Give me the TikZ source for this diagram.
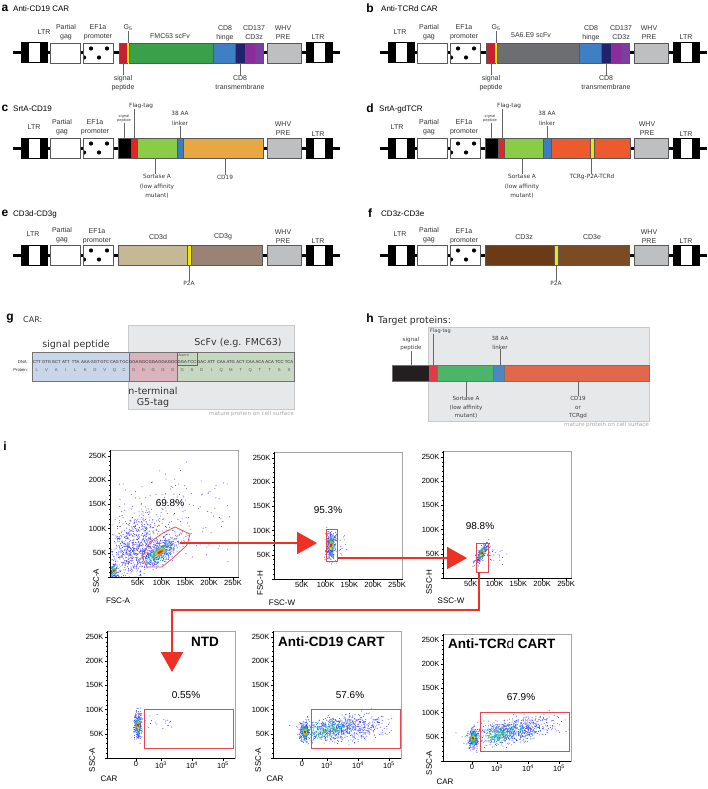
\documentclass[tikz,border=0pt]{standalone}
\usepackage{fontspec}
\setmainfont{Liberation Sans}
\newfontfamily\verd{DejaVu Sans}
\usetikzlibrary{arrows.meta}

\definecolor{spred}{HTML}{C8202F}
\definecolor{g5yel}{HTML}{F2E500}
\definecolor{fmcgreen}{HTML}{3AA14A}
\definecolor{hingeblue}{HTML}{3F7FC3}
\definecolor{tmnavy}{HTML}{22236A}
\definecolor{cdpurple}{HTML}{8B2C9A}
\definecolor{zpurple}{HTML}{7B3F9E}
\definecolor{whvgrey}{HTML}{BEBFC1}
\definecolor{scfvgrey}{HTML}{6D6E71}
\definecolor{flagred}{HTML}{E52521}
\definecolor{srtgreen}{HTML}{8CCB45}
\definecolor{lnkblue}{HTML}{3B7EC2}
\definecolor{cdorange}{HTML}{E8A841}
\definecolor{tcrorange}{HTML}{EC5B2E}
\definecolor{cdtan}{HTML}{C4B896}
\definecolor{cdmauve}{HTML}{9A8274}
\definecolor{zbrown}{HTML}{6B3B17}
\definecolor{ebrown}{HTML}{7B4B23}
\definecolor{gblue}{HTML}{C9D5E9}
\definecolor{gpink}{HTML}{D9B4BC}
\definecolor{ggreen}{HTML}{C6D7C2}
\definecolor{matgrey}{HTML}{E7E8EA}
\definecolor{matedge}{HTML}{C8C9CB}
\definecolor{hblack}{HTML}{231F20}
\definecolor{hred}{HTML}{E23B47}
\definecolor{hgreen}{HTML}{4DB46C}
\definecolor{hblue}{HTML}{4B87C2}
\definecolor{horange}{HTML}{E0694B}
\definecolor{arrowred}{HTML}{EE3124}
\definecolor{gatered}{HTML}{E8474F}
\definecolor{framegrey}{HTML}{A6A6A6}
\definecolor{dotblue}{HTML}{3C3CF0}
\definecolor{dotcyan}{HTML}{00B4E6}
\definecolor{dotgreen}{HTML}{3CC83C}
\definecolor{dotyellow}{HTML}{E6E61E}
\definecolor{dotorange}{HTML}{F08C1E}
\definecolor{dotred}{HTML}{E61E1E}

\tikzset{
  plab/.style={font=\bfseries\fontsize{12}{12}\selectfont, inner sep=0},
  ptitle/.style={font=\fontsize{8}{9}\selectfont, inner sep=0, anchor=west},
  cl/.style={font=\fontsize{7}{9}\selectfont, text=black!80, inner sep=0, align=center},
  vl/.style={font=\verd\fontsize{5.8}{9.5}\selectfont, text=black!80, inner sep=0, align=center},
  tl/.style={font=\verd\fontsize{3.6}{4.6}\selectfont, text=black!80, inner sep=0, align=center},
  hl/.style={font=\verd\fontsize{5.6}{8.3}\selectfont, text=black!75, inner sep=0, align=center},
  gl/.style={font=\verd\fontsize{9.5}{11.5}\selectfont, text=black!80, inner sep=0, align=center},
  capt/.style={font=\verd\fontsize{5.6}{6}\selectfont, text=black!35, inner sep=0},
  dna/.style={font=\fontsize{4.2}{5}\selectfont, text=black!85, inner sep=0},
  segline/.style={draw=black!65, line width=0.7pt},
  leader/.style={draw=black!60, line width=0.5pt},
  matbox/.style={draw=matedge, fill=matgrey, line width=0.8pt},
  axisblack/.style={draw=black, line width=0.45pt},
  tick/.style={font=\fontsize{7.5}{8}\selectfont, inner sep=1pt},
  axt/.style={font=\fontsize{8}{9}\selectfont, inner sep=0},
  pct/.style={font=\fontsize{10}{11}\selectfont, inner sep=0},
  ftitle/.style={font=\bfseries\fontsize{13.5}{14}\selectfont, inner sep=0},
  gate/.style={draw=gatered, line width=0.7pt},
  flowarrow/.style={draw=arrowred, line width=2pt, -{Triangle[length=20pt,width=22pt]}}
}

% vector backbone: LTR, gag, EF1a, WHV PRE, LTR
\newcommand\vecbase[2]{%
\begin{scope}[shift={(#1,#2)}]
  \draw[line width=3pt] (13,0) -- (340,0);
  \foreach \l in {21,306}{
    \fill[black] (\l,-10.5) rectangle ++(27,21);
    \fill[white] (\l+8,-9.5) rectangle ++(11,19);
  }
  \draw[segline, fill=white] (50,-10) rectangle (80,10);
  \fill[white] (83,-10) rectangle (113,10);
  \begin{scope}
    \clip (83,-10) rectangle (113,10);
    \foreach \p in {(91,-4.5),(107,-4.5),(99,4.5),(84,4.5)} \fill \p circle (2.1);
  \end{scope}
  \draw[segline] (83,-10) rectangle (113,10);
  \draw[segline, fill=whvgrey] (267,-10) rectangle (301,10);
\end{scope}}
\newcommand\seg[3]{\draw[segline, fill=#3] (#1,-10) rectangle (#2,10);}

% flow cytometry helpers
\newcommand\cloud[7]{%
  \foreach \k in {1,...,#6}{%
    \pgfmathsetmacro\ga{(rand+rand+rand)*(#3)}%
    \pgfmathsetmacro\gb{(rand+rand+rand)*(#4)}%
    \fill[#7] ({#1+\ga*cos(#5)-\gb*sin(#5)},{#2+\ga*sin(#5)+\gb*cos(#5)}) circle (0.5);
  }}
\newcommand\popul[6]{%
  \cloud{#1}{#2}{#3}{#4}{#5}{#6}{dotblue}
  \pgfmathtruncatemacro\nn{#6/3}
  \cloud{#1}{#2}{0.6*#3}{0.6*#4}{#5}{\nn}{dotcyan}
  \pgfmathtruncatemacro\nn{#6/4}
  \cloud{#1}{#2}{0.42*#3}{0.42*#4}{#5}{\nn}{dotgreen}
  \pgfmathtruncatemacro\nn{#6/6}
  \cloud{#1}{#2}{0.28*#3}{0.28*#4}{#5}{\nn}{dotyellow}
  \pgfmathtruncatemacro\nn{#6/8}
  \cloud{#1}{#2}{0.17*#3}{0.17*#4}{#5}{\nn}{dotorange}
  \pgfmathtruncatemacro\nn{#6/12}
  \cloud{#1}{#2}{0.09*#3}{0.09*#4}{#5}{\nn}{dotred}}
\newcommand\plotframe{%
  \draw[framegrey, line width=0.6pt] (0,0) rectangle (128,127);
  \draw[axisblack] (0,0) -- (0,127) -- (128,127);
  \foreach \m in {1,...,26} \draw[axisblack] (0,{127-4.84*\m}) -- ++(-1.2,0);
  \draw[axisblack] (0,127) -- ++(-2.5,0);
  \foreach \v/\t in {1/50K,2/100K,3/150K,4/200K,5/250K}
    \draw[axisblack] (0,{127-24.2*\v}) -- ++(-2.5,0) node[tick, anchor=east] (yt\v) {\t};}
\newcommand\linx{%
  \foreach \m in {0,...,26} \draw[axisblack] ({4+4.76*\m},127) -- ++(0,1.2);
  \foreach \v/\t in {1/50K,2/100K,3/150K,4/200K,5/250K}
    \draw[axisblack] ({4+23.8*\v},127) -- ++(0,2.5) node[tick, anchor=north] (xt\v) {\t};}
\newcommand\logx{%
  \foreach \p in {9,13,17,21,24,26,27.5,28.3,29,29.7,30.5,32,35,39,43,47,50}
    \draw[axisblack] (\p,127) -- ++(0,1.2);
  \foreach \d in {54,85} \foreach \m in {2,...,9}
    \draw[axisblack] ({\d+31*log10(\m)},127) -- ++(0,1.2);
  \draw[axisblack] (29,127) -- ++(0,2.5) node[tick, anchor=north] (x0) {0};
  \foreach \p/\e in {54/3,85/4,116/5}
    \draw[axisblack] (\p,127) -- ++(0,2.5) node[tick, anchor=north] (xe\e) {10\textsuperscript{\e}};}

\begin{document}
\begin{tikzpicture}[x=1pt,y=-1pt]
\useasboundingbox (0,0) rectangle (708,789);
\pgfmathsetseed{7}

% a: Anti-CD19 CAR
\node[plab] (la) at (5,8) {a};
\node[ptitle] (ta) at (13,9) {Anti-CD19 CAR};
\vecbase{0}{53}
\begin{scope}[shift={(0,53)}]
  \seg{119}{127}{spred}\seg{129}{213}{fmcgreen}\seg{213}{235}{hingeblue}
  \seg{235}{245}{tmnavy}\seg{245}{255}{cdpurple}\seg{255}{263}{zpurple}
  \fill[g5yel] (127,-9.6) rectangle (129,9.6);
\end{scope}
\node[cl] (a1) at (44,32) {LTR};
\node[cl] (a2) at (66,32.5) {Partial\\gag};
\node[cl] (a3) at (98,32.5) {EF1a\\promoter};
\node[cl] (a4) at (128,28) {G\textsubscript{5}};
\node[cl] (a5) at (170,36) {FMC63 scFv};
\node[cl] (a6) at (225,33) {CD8\\hinge};
\node[cl] (a7) at (254,33) {CD137\\CD3z};
\node[cl] (a8) at (283,33) {WHV\\PRE};
\node[cl] (a9) at (318,37) {LTR};
\node[cl] (a10) at (123,83) {signal\\peptide};
\node[cl] (a11) at (240,83) {CD8\\transmembrane};
\draw[leader] (a4.south) -- (a4.south |- 0,43);
\draw[leader] (a10.north) -- (a10.north |- 0,63);
\draw[leader] (a11.north) -- (a11.north |- 0,63);

% b: Anti-TCRd CAR
\node[plab] (lb) at (370,8) {b};
\node[ptitle] (tb) at (381,9) {Anti-TCRd CAR};
\vecbase{367}{53}
\begin{scope}[shift={(367,53)}]
  \seg{119}{128}{spred}\seg{130}{212}{scfvgrey}\seg{212}{234}{hingeblue}
  \seg{234}{244}{tmnavy}\seg{244}{254}{cdpurple}\seg{254}{262}{zpurple}
  \fill[g5yel] (128,-9.6) rectangle (130,9.6);
\end{scope}
\node[cl] (b1) at (400,32) {LTR};
\node[cl] (b2) at (429,32.5) {Partial\\gag};
\node[cl] (b3) at (464,32.5) {EF1a\\promoter};
\node[cl] (b4) at (496,28) {G\textsubscript{5}};
\node[cl] (b5) at (531,35) {5A6.E9 scFv};
\node[cl] (b6) at (591,33) {CD8\\hinge};
\node[cl] (b7) at (621,33) {CD137\\CD3z};
\node[cl] (b8) at (649,33) {WHV\\PRE};
\node[cl] (b9) at (686,37) {LTR};
\node[cl] (b10) at (491,83) {signal\\peptide};
\node[cl] (b11) at (606,83) {CD8\\transmembrane};
\draw[leader] (b4.south) -- (b4.south |- 0,43);
\draw[leader] (b10.north) -- (b10.north |- 0,63);
\draw[leader] (b11.north) -- (b11.north |- 0,63);

% c: SrtA-CD19
\node[plab] (lc) at (5,108) {c};
\node[ptitle] (tc) at (13,109) {SrtA-CD19};
\vecbase{0}{148}
\begin{scope}[shift={(0,148)}]
  \seg{118}{131}{black}\seg{131}{137}{flagred}\seg{137}{177}{srtgreen}
  \seg{177}{183}{lnkblue}\seg{183}{263}{cdorange}
\end{scope}
\node[cl] (c1) at (34,127) {LTR};
\node[cl] (c2) at (62,127.5) {Partial\\gag};
\node[cl] (c3) at (95,127.5) {EF1a\\promoter};
\node[tl] (c4) at (124,118.5) {signal\\peptide};
\node[vl, anchor=west] (c5) at (129,106) {Flag-tag};
\node[vl] (c6) at (180,118.5) {38 AA\\linker};
\node[cl] (c7) at (283,128.5) {WHV\\PRE};
\node[cl] (c8) at (318,134) {LTR};
\node[vl] (c9) at (157,186.5) {Sortase A\\(low affinity\\mutant)};
\node[vl] (c10) at (225,177) {CD19};
\draw[leader] (c4.south) -- (c4.south |- 0,138);
\draw[leader] ([xshift=5pt]c5.south west) -- ([xshift=5pt]c5.south west |- 0,138);
\draw[leader] (c6.south) -- (c6.south |- 0,138);
\draw[leader] ([xshift=-2pt]c9.north) -- ([xshift=-2pt]c9.north |- 0,158);
\draw[leader] (c10.north) -- (c10.north |- 0,158);

% d: SrtA-gdTCR
\node[plab] (ld) at (370,108) {d};
\node[ptitle] (td) at (379,109) {SrtA-gdTCR};
\vecbase{367}{148}
\begin{scope}[shift={(367,148)}]
  \seg{118}{131}{black}\seg{131}{137}{flagred}\seg{137}{176}{srtgreen}
  \seg{176}{184}{lnkblue}\seg{184}{263}{tcrorange}\seg{223}{227}{g5yel}
\end{scope}
\node[cl] (d1) at (397,127) {LTR};
\node[cl] (d2) at (429,127.5) {Partial\\gag};
\node[cl] (d3) at (464,127.5) {EF1a\\promoter};
\node[tl] (d4) at (490,118.5) {signal\\peptide};
\node[vl, anchor=west] (d5) at (497,106) {Flag-tag};
\node[vl] (d6) at (547,118.5) {38 AA\\linker};
\node[cl] (d7) at (647,128.5) {WHV\\PRE};
\node[cl] (d8) at (686,134) {LTR};
\node[vl] (d9) at (522,186.5) {Sortase A\\(low affinity\\mutant)};
\node[vl] (d10) at (592,177) {TCRg-P2A-TCRd};
\draw[leader] ([xshift=1pt]d4.south) -- ([xshift=1pt]d4.south |- 0,138);
\draw[leader] ([xshift=5pt]d5.south west) -- ([xshift=5pt]d5.south west |- 0,138);
\draw[leader] (d6.south) -- (d6.south |- 0,138);
\draw[leader] (d9.north) -- (d9.north |- 0,158);
\draw[leader] ([xshift=-1pt]d10.north) -- ([xshift=-1pt]d10.north |- 0,158);

% e: CD3d-CD3g
\node[plab] (le) at (5,213) {e};
\node[ptitle] (te) at (13,214) {CD3d-CD3g};
\vecbase{0}{255}
\begin{scope}[shift={(0,255)}]
  \seg{118}{187}{cdtan}\seg{191}{262}{cdmauve}\seg{187}{191}{g5yel}
\end{scope}
\node[cl] (e1) at (33,234) {LTR};
\node[cl] (e2) at (62,235) {Partial\\gag};
\node[cl] (e3) at (97,236) {EF1a\\promoter};
\node[cl] (e4) at (158,237) {CD3d};
\node[cl] (e5) at (223,237) {CD3g};
\node[cl] (e6) at (283,237) {WHV\\PRE};
\node[cl] (e7) at (318,241) {LTR};
\node[vl] (e8) at (189,283) {P2A};
\draw[leader] (e8.north) -- (e8.north |- 0,265);

% f: CD3z-CD3e
\node[plab] (lf) at (370,213) {f};
\node[ptitle] (tf) at (381,214) {CD3z-CD3e};
\vecbase{367}{255}
\begin{scope}[shift={(367,255)}]
  \seg{118}{187}{zbrown}\seg{191}{262}{ebrown}\seg{187}{191}{g5yel}
\end{scope}
\node[cl] (f1) at (400,234) {LTR};
\node[cl] (f2) at (429,235) {Partial\\gag};
\node[cl] (f3) at (464,236) {EF1a\\promoter};
\node[cl] (f4) at (524,237) {CD3z};
\node[cl] (f5) at (592,237) {CD3e};
\node[cl] (f6) at (649,237) {WHV\\PRE};
\node[cl] (f7) at (686,241) {LTR};
\node[vl] (f8) at (556,283) {P2A};
\draw[leader] (f8.north) -- (f8.north |- 0,265);

% g: CAR sequence
\node[plab] (lg) at (10,319) {g};
\node[font=\verd\fontsize{8}{9}\selectfont, inner sep=0, anchor=west, text=black!80] (tg) at (23,320) {CAR:};
\draw[matbox] (128,325) rectangle (294,409);
\node[capt, anchor=north east] (gcap) at (294,411) {mature protein on cell surface};
\draw[black!55, line width=0.5pt, fill=gblue] (32,352) rectangle (129,381);
\draw[black!55, line width=0.5pt, fill=gpink] (129,352) rectangle (177.5,381);
\draw[black!55, line width=0.5pt, fill=ggreen] (177.5,352) rectangle (294,381);
\draw[black!60, line width=0.3pt] (177.5,352) rectangle (197,365);
\node[font=\itshape\fontsize{3.3}{4}\selectfont, inner sep=0, anchor=west, text=black!70] (bam) at (178.5,355) {BamHI};
\node[dna, anchor=east] (dnal) at (28,362) {DNA:};
\node[dna, anchor=east] (protl) at (28,370) {Protein:};
\foreach \c [count=\i] in {CTT,GTG,GCT,ATT,TTA,AAA,GGT,GTC,CAG,TGC,GGA,GGC,GGA,GGA,GGC,GGA,TCC,GAC,ATT,CAA,ATG,ACT,CAA,ACA,ACA,TCC,TCA}
  \node[dna] (cod\i) at ({32+9.7*(\i-0.5)},362) {\c};
\foreach \p [count=\i] in {L,V,A,I,L,K,G,V,Q,C,G,G,G,G,G,G,S,D,I,Q,M,T,Q,T,T,S,S}
  \node[dna, text=black!65] (aa\i) at ({32+9.7*(\i-0.5)},370) {\p};
\node[gl] (gsp) at (76,345) {signal peptide};
\node[gl] (gscfv) at (238,343) {ScFv (e.g. FMC63)};
\node[gl] (gg5) at (153,397.5) {n-terminal\\G5-tag};

% h: target proteins
\node[plab] (lh) at (370,318) {h};
\node[font=\verd\fontsize{9.3}{10}\selectfont, inner sep=0, anchor=west, text=black!85] (th) at (378,321) {Target proteins:};
\draw[matbox] (428,327) rectangle (649,421);
\node[capt, anchor=north east] (hcap) at (649,422.5) {mature protein on cell surface};
\draw[black!55, line width=0.5pt, fill=hblack] (392,365) rectangle (429,381);
\draw[black!55, line width=0.5pt, fill=hred] (429,365) rectangle (437,381);
\draw[black!55, line width=0.5pt, fill=hgreen] (437,365) rectangle (493,381);
\draw[black!55, line width=0.5pt, fill=hblue] (493,365) rectangle (504,381);
\draw[black!55, line width=0.5pt, fill=horange] (504,365) rectangle (649,381);
\node[hl] (h1) at (411,344) {signal\\peptide};
\node[hl, anchor=west, font=\verd\fontsize{5}{6}\selectfont] (h2) at (430,331) {Flag-tag};
\node[hl] (h3) at (500,343) {38 AA\\linker};
\node[hl] (h4) at (466,407.5) {Sortase A\\(low affinity\\mutant)};
\node[hl] (h5) at (578,407.5) {CD19\\or\\TCRgd};
\draw[leader] (h1.south) -- (h1.south |- 0,365);
\draw[leader] ([xshift=3pt]h2.south west) -- ([xshift=3pt]h2.south west |- 0,365);
\draw[leader] (h3.south) -- (h3.south |- 0,365);
\draw[leader] (h4.north) -- (h4.north |- 0,381);
\draw[leader] (h5.north) -- (h5.north |- 0,381);

% i: flow gating
\node[plab] (li) at (5,446) {i};

\begin{scope}[shift={(110,450)}]
  \begin{scope}
    \clip (0,0) rectangle (128,127);
    \cloud{70}{60}{30}{22}{0}{150}{dotblue}
    \cloud{22}{95}{20}{12}{-65}{500}{dotblue}
    \cloud{28}{100}{14}{10}{-50}{300}{dotblue}
    \popul{4}{121}{5}{2.5}{-90}{110}
    \popul{50}{102}{12}{5}{-37}{420}
  \end{scope}
  \plotframe\linx
  \draw[gate] (32,107) -- (40,92) -- (53,83) -- (65,77) -- (80,84) -- (77,95)
    -- (63,108) -- (52,117) -- (37,117) -- cycle;
  \coordinate (g1) at (70,93);
  \node[pct] (pc1) at (60,53) {69.8\%};
  \node[axt, rotate=90] (yl1) at (-14,131) {SSC-A};
  \node[axt] (xl1) at (8,151) {FSC-A};
\end{scope}

\begin{scope}[shift={(274,452)}]
  \begin{scope}
    \clip (0,0) rectangle (128,127);
    \cloud{64}{92}{5}{7}{0}{25}{dotblue}
    \popul{57}{93}{2.4}{7.5}{0}{280}
  \end{scope}
  \plotframe\linx
  \draw[gate] (52,77) rectangle (63,109);
  \coordinate (p2in) at (43,91);
  \coordinate (g2) at (63,106);
  \node[pct] (pc2) at (54,58) {95.3\%};
  \node[axt, rotate=90] (yl2) at (-14,131) {FSC-H};
  \node[axt] (xl2) at (8,151) {FSC-W};
\end{scope}

\begin{scope}[shift={(443,451)}]
  \begin{scope}
    \clip (0,0) rectangle (128,127);
    \cloud{50}{104}{6}{5}{0}{30}{dotblue}
    \popul{39}{102}{6.5}{1.8}{-60}{200}
  \end{scope}
  \plotframe\linx
  \draw[gate] (33,92) rectangle (45,121);
  \coordinate (p3in) at (24,107);
  \coordinate (g3) at (36,121);
  \node[pct] (pc3) at (37,75) {98.8\%};
  \node[axt, rotate=90] (yl3) at (-14,131) {SSC-H};
  \node[axt] (xl3) at (8,150) {SSC-W};
\end{scope}

\begin{scope}[shift={(107,631)}]
  \begin{scope}
    \clip (0,0) rectangle (128,127);
    \cloud{52}{92}{9}{4}{0}{18}{dotblue}
    \popul{31}{94}{2}{6.5}{0}{260}
  \end{scope}
  \plotframe\logx
  \draw[gate] (37,78) rectangle (126,117);
  \coordinate (p4in) at (65,41);
  \node[ftitle] (tt4) at (98,11) {NTD};
  \node[pct] (pc4) at (79,64) {0.55\%};
  \node[axt, rotate=90] (yl4) at (-15,129) {SSC-A};
  \node[axt] (xl4) at (2,148) {CAR};
\end{scope}

\begin{scope}[shift={(273,631)}]
  \begin{scope}
    \clip (0,0) rectangle (128,127);
    \cloud{70}{97}{20}{6}{-6}{650}{dotblue}
    \cloud{58}{99}{12}{4.5}{-6}{200}{dotcyan}
    \cloud{52}{100}{7}{3}{-6}{70}{dotgreen}
    \popul{32}{101}{2.6}{5}{0}{220}
  \end{scope}
  \plotframe\logx
  \draw[gate] (38,78) rectangle (127,117);
  \node[ftitle, anchor=west] (tt5) at (5,11) {Anti-CD19 CART};
  \node[pct] (pc5) at (77,64) {57.6\%};
  \node[axt, rotate=90] (yl5) at (-15,129) {SSC-A};
  \node[axt] (xl5) at (2,148) {CAR};
\end{scope}

\begin{scope}[shift={(443,634)}]
  \begin{scope}
    \clip (0,0) rectangle (128,127);
    \cloud{72}{96}{22}{6}{-10}{680}{dotblue}
    \cloud{62}{99}{13}{4.5}{-10}{210}{dotcyan}
    \cloud{58}{100}{8}{3}{-10}{80}{dotgreen}
    \popul{30}{104}{2.6}{5}{0}{220}
  \end{scope}
  \plotframe\logx
  \draw[gate] (37,78) rectangle (126,117);
  \node[ftitle, anchor=west] (tt6) at (5,10) {Anti-TCR{\mdseries d} CART};
  \node[pct] (pc6) at (78,63) {67.9\%};
  \node[axt, rotate=90] (yl6) at (-14,129) {SSC-A};
  \node[axt] (xl6) at (2,148) {CAR};
\end{scope}

\draw[flowarrow] (g1) -- (p2in);
\draw[flowarrow] (g2) -- (p3in);
\draw[flowarrow] (g3) -- ++(0,38) -| (p4in);
\end{tikzpicture}
\end{document}
